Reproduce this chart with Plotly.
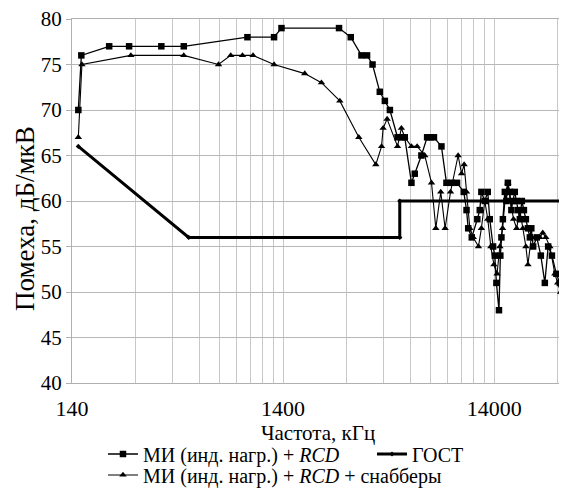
import plotly.graph_objects as go

# Series 1: МИ (инд. нагр.) + RCD  (squares)
rcd_f = [150, 155, 210, 261, 371, 474, 949, 1269, 1376, 2578, 2930, 3292, 3500, 3715,
         4022, 4250, 4490, 4880, 5090, 5280, 5680, 5890, 6330, 6740, 6990, 7260, 7880,
         8320, 8800, 9340, 10050, 10360, 10550, 10970, 11650, 11970, 12180, 12640, 13060,
         13350, 13840, 14100, 14350, 14760, 14980, 15160, 15400, 15730, 16000, 16260,
         16610, 16900, 17160, 17540, 17850, 18150, 18530, 18940, 19370, 19790, 20240,
         20670, 21000, 21430, 22300, 23300, 24340, 25240, 26300, 27600, 28670, 29100, 29400]
rcd_v = [70, 76, 77, 77, 77, 77, 78, 78, 79, 79, 78, 76, 76, 75,
         72, 71, 70, 67, 67, 67, 62, 63, 65, 67, 67, 67, 66,
         62, 62, 62, 61, 59, 57, 56, 58, 59, 61, 60, 61,
         58, 55, 54, 51, 48, 54, 56, 58, 61, 60, 62,
         61, 59, 60, 61, 60, 59, 58, 60, 59, 58, 57,
         56, 57, 55, 56, 54, 51, 55, 54, 52, 51, 51, 50]

# Series 2: МИ (инд. нагр.) + RCD + снабберы  (triangles)
snub_f = [150, 156, 266, 474, 692, 791, 899, 1009, 1269, 1774, 2128, 2600, 3199, 3850,
          4100, 4170, 4355, 4880, 5090, 5280, 5680, 6045, 6570, 7070, 7410, 7820, 8200,
          8700, 9450, 9810, 10090, 10360, 10740, 11150, 11800, 12180, 12640, 13060, 13500,
          13960, 14450, 14900, 15350, 15900, 16260, 16700, 17300, 17900, 18530, 19150,
          19790, 20240, 21000, 21830, 23050, 23800, 24600, 25710, 27150, 28000, 28900, 29700]
snub_v = [67, 75, 76, 76, 75, 76, 76, 76, 75, 74, 73, 71, 67, 64,
          66, 68, 69, 66, 68, 67, 66, 66, 65, 62, 57, 61, 57,
          61, 65, 63, 64, 61, 57, 56, 55, 57, 60, 58, 55,
          53, 52, 55, 57, 61, 62, 60, 58, 57, 59, 57,
          55, 53, 56, 56, 56, 56.5, 56, 55, 52, 51, 50, 41]

# ГОСТ limit
gost_f = [150, 500, 5000, 5000, 30000]
gost_v = [66, 56, 56, 60, 60]

# Axis ticks
x_labels = {140: "140", 1400: "1400", 14000: "14000"}
y_ticks = [40, 45, 50, 55, 60, 65, 70, 75, 80]

grid_vals = []
for dec in [1, 10, 100]:
    for k in range(1, 11 if dec < 100 else 3):
        v = 140 * dec * k
        if v not in grid_vals:
            grid_vals.append(v)
grid_text = [x_labels.get(v, "") for v in grid_vals]

FONT = "Liberation Serif, Times New Roman, serif"

fig = go.Figure()
fig.add_trace(go.Scatter(
    x=rcd_f, y=rcd_v, mode="lines+markers",
    name="МИ (инд. нагр.) + <i>RCD</i>", legend="legend", legendwidth=224,
    line=dict(color="black", width=1.3),
    marker=dict(symbol="square", size=6.5, color="black"),
))
fig.add_trace(go.Scatter(
    x=gost_f, y=gost_v, mode="lines+markers",
    name="ГОСТ", legend="legend",
    line=dict(color="black", width=3),
    marker=dict(symbol="diamond", size=4, color="black"),
))
fig.add_trace(go.Scatter(
    x=snub_f, y=snub_v, mode="lines+markers",
    name="МИ (инд. нагр.) + <i>RCD</i> + снабберы", legend="legend2",
    line=dict(color="black", width=1.1),
    marker=dict(symbol="triangle-up", size=6.5, color="black"),
))

leg_common = dict(orientation="h", xanchor="left", yanchor="middle",
                  font=dict(family=FONT, size=20), itemwidth=30,
                  bgcolor="rgba(0,0,0,0)")

fig.update_layout(
    # the page body adds an 8px offset, so the figure is sized to fit the window
    width=559, height=480,
    margin=dict(l=64, r=3, t=11, b=105, autoexpand=False),
    paper_bgcolor="white", plot_bgcolor="white",
    font=dict(family=FONT, size=21, color="black"),
    showlegend=True,
    legend=dict(x=0.063, y=-0.195, **leg_common),
    legend2=dict(x=0.063, y=-0.2527, **leg_common),
    xaxis=dict(
        type="log", range=[2.146128, 4.477121],
        tickmode="array", tickvals=grid_vals, ticktext=grid_text,
        showgrid=True, gridcolor="#c8c8c8", gridwidth=1.3,
        showline=True, linecolor="#b0b0b0", linewidth=1.3, mirror=True,
        ticks="", zeroline=False, ticklabelstandoff=5,
        tickfont=dict(family=FONT, size=22),
        title=dict(text="Частота, кГц", font=dict(family=FONT, size=21), standoff=2),
    ),
    yaxis=dict(
        range=[40, 80], tickvals=y_ticks,
        showgrid=True, gridcolor="#b8b8b8", gridwidth=1.3,
        showline=True, linecolor="#b0b0b0", linewidth=1.3, mirror=True,
        ticks="outside", ticklen=5, tickcolor="#b0b0b0", tickwidth=1.3,
        zeroline=False, ticklabeloverflow="allow",
        tickfont=dict(family=FONT, size=21),
    ),
    annotations=[dict(
        text="Помеха, дБ/мкВ", xref="paper", yref="paper",
        x=-0.0955, y=0.4505, xanchor="center", yanchor="middle",
        textangle=-90, showarrow=False,
        font=dict(family=FONT, size=27, color="black"),
    )],
)

fig.write_html("out.html")
